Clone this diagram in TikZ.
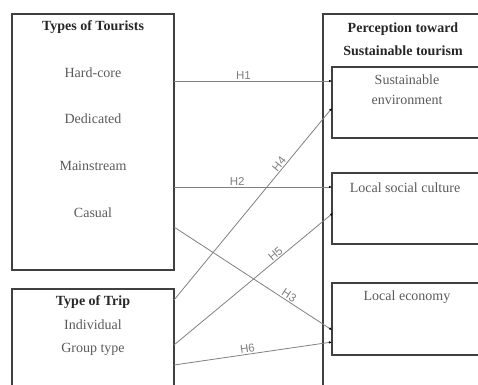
\documentclass[tikz,border=0pt]{standalone}
\usepackage{fontspec}
\setmainfont{Liberation Serif}
\newfontfamily\hfont{Liberation Sans}
\usetikzlibrary{arrows.meta}
\definecolor{boxgray}{HTML}{404040}
\definecolor{linegray}{HTML}{808080}
\definecolor{textgray}{HTML}{5a5a5a}

\begin{document}
\begin{tikzpicture}[x=1pt, y=-1pt,
	frame/.style={draw=boxgray, line width=1.9pt},
	hyp/.style={draw=linegray, line width=0.8pt, -{Latex[length=3pt,width=2.5pt,color=black]}},
	item/.style={text=textgray, font=\fontsize{14}{20}\selectfont, align=center, inner sep=0pt},
	head/.style={text=black!85, font=\bfseries\fontsize{14}{23}\selectfont, align=center, inner sep=0pt},
	hlab/.style={text=linegray, font=\hfont\fontsize{11.5}{13}\selectfont, sloped, above, inner sep=1pt}]
		\useasboundingbox (0,0) rectangle (478,384);
		\clip (0,0) rectangle (478,384);
		% boxes
		\draw[frame] (12,14) rectangle (174,270);
		\draw[frame] (12,289) rectangle (174,400);
		\draw[frame] (323,14) rectangle (495,400);
		\draw[frame] (332,67) rectangle (495,138);
		\draw[frame] (332,173) rectangle (495,244);
		\draw[frame] (332,283) rectangle (495,355);
		% texts
		\node[head] (tourists) at (93,27) {Types of Tourists};
		\node[item] (hardcore) at (93,73) {Hard-core};
		\node[item] (dedicated) at (93,119) {Dedicated};
		\node[item] (mainstream) at (93,166) {Mainstream};
		\node[item] (casual) at (93,213) {Casual};
		\node[head] (trip) at (93,302) {Type of Trip};
		\node[item] (individual) at (93,325) {Individual};
		\node[item] (group) at (93,349) {Group type};
		\node[head] (perception) at (403,39) {Perception toward\\Sustainable tourism};
		\node[item] (environment) at (407,90) {Sustainable\\environment};
		\node[item] (culture) at (405,188) {Local social culture};
		\node[item] (economy) at (407,297) {Local economy};
		% end points
		\coordinate (h1s) at (174,81);
		\coordinate (h1e) at (332,81);
		\coordinate (h2s) at (174,187);
		\coordinate (h2e) at (332,187);
		\coordinate (h3s) at (174,227);
		\coordinate (h3e) at (332,330);
		\coordinate (h4s) at (174,300);
		\coordinate (h4e) at (332,108);
		\coordinate (h5s) at (174,345);
		\coordinate (h5e) at (333,213);
		\coordinate (h6s) at (174,365);
		\coordinate (h6e) at (332,342);
		% hypotheses
		\draw[hyp] (h1s) -- node[hlab, pos=0.44] (lab1) {H1} (h1e);
		\draw[hyp] (h2s) -- node[hlab, pos=0.40] (lab2) {H2} (h2e);
		\draw[hyp] (h3s) -- node[hlab, pos=0.71] (lab3) {H3} (h3e);
		\draw[hyp] (h4s) -- node[hlab, pos=0.69] (lab4) {H4} (h4e);
		\draw[hyp] (h5s) -- node[hlab, pos=0.66] (lab5) {H5} (h5e);
		\draw[hyp] (h6s) -- node[hlab, pos=0.47] (lab6) {H6} (h6e);
\end{tikzpicture}
\end{document}
